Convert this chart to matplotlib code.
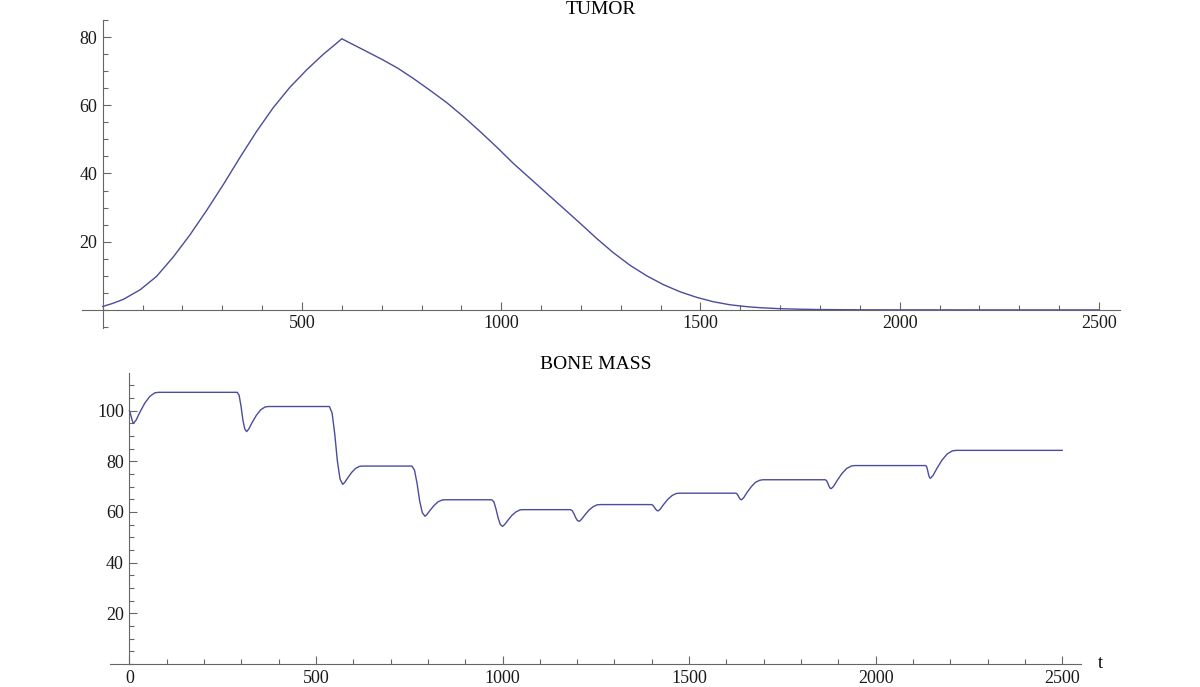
import matplotlib
matplotlib.use("Agg")
import matplotlib.pyplot as plt
from matplotlib.ticker import MultipleLocator

# tumor size over time
tumor_t = [0, 25, 52, 94, 135, 177, 219, 261, 303, 345, 386, 428, 470, 512, 554, 580, 600,
           650, 700, 740, 779, 820, 863, 905, 947, 990, 1030, 1072, 1114, 1156, 1198, 1240, 1281,
           1323, 1365, 1407, 1449, 1490, 1532, 1574, 1620, 1650, 1700, 1750, 1800, 1900, 2000,
           2250, 2500]
tumor_y = [1.0, 1.9, 3.1, 5.9, 9.8, 15.5, 22.0, 29.2, 36.8, 44.8, 52.3, 59.3, 65.3, 70.4, 75.0, 77.5, 79.5,
           76.5, 73.5, 70.9, 67.9, 64.5, 60.8, 56.7, 52.3, 47.6, 43.0, 38.6, 34.2, 29.8, 25.4, 20.9, 16.8,
           13.1, 10.0, 7.4, 5.3, 3.7, 2.4, 1.5, 0.9, 0.65, 0.35, 0.2, 0.1, 0.03, 0.01,
           0.0, 0.0]

# bone mass over time
bone_t = [0, 3, 6, 9, 11, 17.7, 27.8, 41, 54.6, 68, 78,
          289, 294, 299, 304, 309, 314, 319.8, 328.5, 340.1, 351.7, 363.3, 372,
          536, 543.1, 550.2, 557.3, 564.4, 571.5, 576.9, 584.9, 595.6, 606.3, 617, 625,
          757, 764, 771, 778, 785, 792, 797.4, 805.5, 816.3, 827.1, 837.9, 846,
          971, 976.8, 982.6, 988.4, 994.2, 1000, 1005.5, 1013.8, 1024.8, 1035.8, 1046.8, 1055,
          1182, 1186.7, 1191.4, 1196.1, 1200.8, 1205.5, 1211.2, 1219.6, 1230.9, 1242.2, 1253.5, 1262,
          1399, 1402.6, 1406.2, 1409.8, 1413.4, 1417, 1422.8, 1431.5, 1443.1, 1454.7, 1466.3, 1475,
          1625, 1628.1, 1631.2, 1634.3, 1637.4, 1640.5, 1646.3, 1654.9, 1666.4, 1677.9, 1689.4, 1698,
          1865, 1868.2, 1871.4, 1874.6, 1877.8, 1881, 1887.3, 1896.8, 1909.4, 1922, 1934.6, 1944,
          2134, 2136.6, 2139.2, 2141.8, 2144.4, 2147, 2153.9, 2164.3, 2178.1, 2191.9, 2205.7, 2216,
          2500]
bone_y = [100, 98.6, 96.8, 95.4, 95.0, 96.2, 99.3, 102.9, 105.6, 107.0, 107.2,
          107.2, 106.0, 101.8, 96.3, 92.8, 91.7, 92.7, 95.2, 98.1, 100.3, 101.4, 101.6,
          101.6, 99.1, 90.9, 80.1, 73.0, 70.9, 71.6, 73.4, 75.6, 77.2, 78.0, 78.1,
          78.1, 76.5, 71.2, 64.2, 59.7, 58.3, 59.0, 60.6, 62.5, 64.0, 64.7, 64.8,
          64.8, 64.0, 61.1, 57.5, 55.0, 54.3, 55.0, 56.6, 58.6, 60.0, 60.8, 60.9,
          60.9, 60.5, 59.3, 57.7, 56.6, 56.3, 57.0, 58.6, 60.6, 62.0, 62.8, 62.9,
          62.9, 62.7, 62.0, 61.2, 60.6, 60.4, 61.1, 62.9, 65.0, 66.5, 67.3, 67.4,
          67.4, 67.2, 66.5, 65.6, 65.0, 64.8, 65.6, 67.6, 69.9, 71.7, 72.5, 72.7,
          72.7, 72.4, 71.5, 70.3, 69.4, 69.2, 70.1, 72.4, 75.1, 77.1, 78.1, 78.3,
          78.3, 77.9, 76.5, 74.8, 73.6, 73.3, 74.4, 77.2, 80.5, 82.9, 84.1, 84.3,
          84.3]

top_xticks = [500, 1000, 1500, 2000, 2500]
bottom_xticks = [0, 500, 1000, 1500, 2000, 2500]
top_yticks = [20, 40, 60, 80]
bottom_yticks = [20, 40, 60, 80, 100]

line_color = "#4b4b9f"
axis_color = "#666666"
plt.rcParams["font.family"] = ["Liberation Serif", "DejaVu Serif"]


def style_axes(ax, xticks, yticks):
    for s in ["top", "right"]:
        ax.spines[s].set_visible(False)
    ax.spines["left"].set_position(("data", 0))
    ax.spines["bottom"].set_position(("data", 0))
    for s in ["left", "bottom"]:
        ax.spines[s].set_color(axis_color)
        ax.spines[s].set_linewidth(0.8)
    ax.set_xticks(xticks)
    ax.set_xticklabels([str(v) for v in xticks])
    ax.set_yticks(yticks)
    ax.set_yticklabels([str(v) for v in yticks])
    ax.xaxis.set_minor_locator(MultipleLocator(100))
    ax.yaxis.set_minor_locator(MultipleLocator(5))
    ax.tick_params(which="major", direction="in", length=6, width=0.8,
                   color=axis_color, labelsize=13, labelcolor="#1a1a1a")
    ax.tick_params(which="minor", direction="in", length=3.5, width=0.8, color=axis_color)
    ax.tick_params(axis="x", which="major", pad=4)
    ax.tick_params(axis="y", which="major", pad=4)
    ax.patch.set_visible(False)


fig = plt.figure(figsize=(12, 6.87), dpi=100)

ax1 = fig.add_axes([0.0683, 0.5226, 0.8648, 0.4483])
ax1.plot(tumor_t, tumor_y, color=line_color, lw=1.0)
ax1.set_xlim(-52, 2552)
ax1.set_ylim(-5.3, 85)
style_axes(ax1, top_xticks, top_yticks)
ax1.set_title("TUMOR", fontsize=14, pad=4)

ax2 = fig.add_axes([0.0917, 0.0335, 0.809, 0.4231])
ax2.plot(bone_t, bone_y, color=line_color, lw=1.0)
ax2.set_xlim(-52, 2550)
ax2.set_ylim(0, 114.7)
style_axes(ax2, bottom_xticks, bottom_yticks)
ax2.set_title("BONE MASS", fontsize=14, pad=3)
ax2.annotate("t", xy=(1, 0), xycoords="axes fraction", xytext=(12, 0),
             textcoords="offset points", va="center", ha="left", fontsize=13)

fig.savefig("out.png", dpi=100)
